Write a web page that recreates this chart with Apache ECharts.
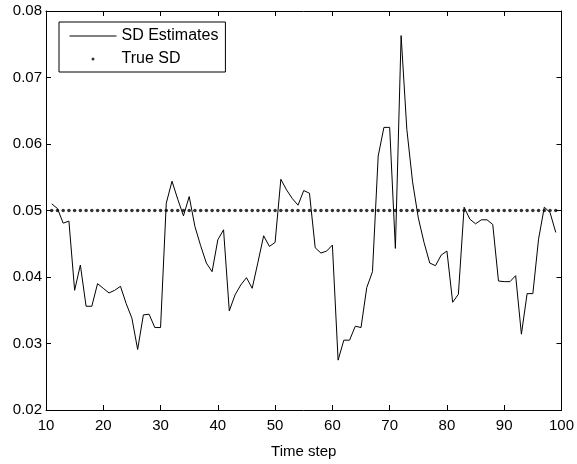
<!DOCTYPE html>
<html>
<head>
<meta charset="utf-8">
<script src="https://cdn.jsdelivr.net/npm/echarts@6/dist/echarts.min.js"></script>
<style>
  html, body { margin: 0; padding: 0; background: #fff; }
  #main { width: 577px; height: 464px; }
</style>
</head>
<body>
<div id="main"></div>
<script>
// time steps 11..99
var steps = [];
for (var t = 11; t <= 99; t++) steps.push(t);

// SD estimates
var sdEstimates = [
  0.0510, 0.0503, 0.0481, 0.0484, 0.0380, 0.0418, 0.0356, 0.0356, 0.0390, 0.0383,
  0.0376, 0.0380, 0.0386, 0.0360, 0.0338, 0.0291, 0.0343, 0.0344, 0.0324, 0.0324,
  0.0511, 0.0544, 0.0517, 0.0492, 0.0521, 0.0476, 0.0447, 0.0421, 0.0408, 0.0456,
  0.0471, 0.0349, 0.0373, 0.0388, 0.0399, 0.0383, 0.0422, 0.0462, 0.0446, 0.0452,
  0.0547, 0.0531, 0.0518, 0.0508, 0.0530, 0.0526, 0.0444, 0.0436, 0.0439, 0.0448,
  0.0275, 0.0305, 0.0305, 0.0326, 0.0324, 0.0384, 0.0408, 0.0582, 0.0625, 0.0625,
  0.0443, 0.0763, 0.0622, 0.0543, 0.0489, 0.0452, 0.0421, 0.0417, 0.0433, 0.0439,
  0.0362, 0.0374, 0.0505, 0.0487, 0.0480, 0.0486, 0.0486, 0.0479, 0.0394, 0.0393,
  0.0393, 0.0402, 0.0314, 0.0375, 0.0375, 0.0457, 0.0505, 0.0497, 0.0467
];

var trueSD = 0.05;

var font = "'Liberation Sans', Arial, sans-serif";

var estData = steps.map(function (s, i) { return [s, sdEstimates[i]]; });
var trueData = steps.map(function (s) { return [s, trueSD]; });

var chart = echarts.init(document.getElementById('main'));

var axisLine = { show: true, onZero: false, lineStyle: { color: '#000', width: 1 } };
var axisTick = { show: true, inside: true, length: 5, lineStyle: { color: '#000', width: 1 } };

chart.setOption({
  animation: false,
  backgroundColor: '#fff',
  textStyle: { fontFamily: font },
  grid: { left: 46, right: 15, top: 11, bottom: 46 },
  legend: {
    orient: 'vertical',
    left: 59,
    top: 22,
    align: 'left',
    itemWidth: 47,
    itemHeight: 3,
    itemGap: 7,
    padding: [6, 7, 5, 10],
    borderColor: '#000',
    borderWidth: 1,
    backgroundColor: '#fff',
    lineStyle: { width: 1 },
    textStyle: { color: '#000', fontSize: 16, fontFamily: font, lineHeight: 16 },
    data: [
      { name: 'SD Estimates', itemStyle: { opacity: 0 } },
      { name: 'True SD' }
    ]
  },
  xAxis: [{
    type: 'value',
    min: 10,
    max: 100,
    interval: 10,
    name: 'Time step',
    nameLocation: 'middle',
    nameGap: 34,
    nameTextStyle: { color: '#000', fontSize: 15, fontFamily: font },
    axisLine: axisLine,
    axisTick: axisTick,
    splitLine: { show: false },
    axisLabel: { color: '#000', fontSize: 15, fontFamily: font, margin: 8 }
  }, {
    type: 'value',
    position: 'top',
    min: 10,
    max: 100,
    interval: 10,
    axisLine: axisLine,
    axisTick: axisTick,
    splitLine: { show: false },
    axisLabel: { show: false }
  }],
  yAxis: [{
    type: 'value',
    min: 0.02,
    max: 0.08,
    interval: 0.01,
    axisLine: axisLine,
    axisTick: axisTick,
    splitLine: { show: false },
    axisLabel: {
      color: '#000', fontSize: 15, fontFamily: font, margin: 4,
      formatter: function (v) { return v.toFixed(2); }
    }
  }, {
    type: 'value',
    position: 'right',
    min: 0.02,
    max: 0.08,
    interval: 0.01,
    axisLine: axisLine,
    axisTick: axisTick,
    splitLine: { show: false },
    axisLabel: { show: false }
  }],
  series: [{
    name: 'SD Estimates',
    type: 'line',
    data: estData,
    symbol: 'none',
    color: '#000',
    lineStyle: { color: '#000', width: 1 }
  }, {
    name: 'True SD',
    type: 'scatter',
    data: trueData,
    symbol: 'circle',
    symbolSize: 3.5,
    color: '#000',
    itemStyle: { color: '#000' }
  }]
});
</script>
</body>
</html>
